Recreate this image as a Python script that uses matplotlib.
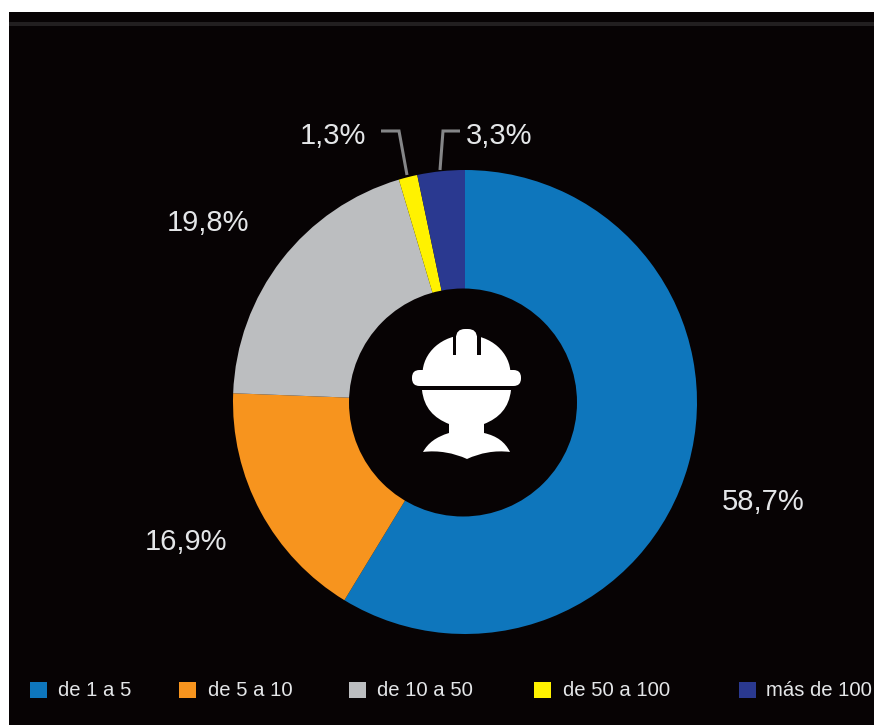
import matplotlib
matplotlib.use("Agg")
import matplotlib.pyplot as plt
from matplotlib.patches import Rectangle, PathPatch, Ellipse, FancyBboxPatch, Circle
from matplotlib.path import Path

plt.rcParams['font.family'] = ['Liberation Sans', 'DejaVu Sans']

categories = ["de 1 a 5", "de 5 a 10", "de 10 a 50", "de 50 a 100", "más de 100"]
values = [58.7, 16.9, 19.8, 1.3, 3.3]
colors = ["#0e76bc", "#f7941e", "#bcbec0", "#fff200", "#2a3990"]

W, H = 874, 725
BG = "#070304"
TXT = "#e4e6e8"
LINE = "#858688"


def fy(y):
    # picture y (from the top) to axes y
    return H - y


fig = plt.figure(figsize=(W / 100, H / 100), dpi=100, facecolor="white")
ax = fig.add_axes([0, 0, 1, 1])

# black panel and the faint rule on top
ax.add_patch(Rectangle((9, 0), W - 9, H - 12, fc=BG, ec="none", zorder=0))
ax.add_patch(Rectangle((9, fy(26)), W - 9, 4, fc="#221f20", ec="none", zorder=1))

# ======================
# Donut
# ======================
wedges, _ = ax.pie(values, colors=colors, startangle=90, counterclock=False,
                   center=(465, fy(402)), radius=232,
                   wedgeprops={"width": 125, "linewidth": 0}, frame=True)
ax.set_xlim(0, W)
ax.set_ylim(0, H)
ax.axis("off")
ax.set_aspect("auto")
# the hole sits a little left of the ring's centre
ax.add_patch(Circle((463, fy(402.5)), 114, fc=BG, ec="none", zorder=3))

# ======================
# Labels
# ======================
label_pos = [(763, 502), (186, 542), (208, 223), (333, 136), (499, 136)]
for v, (x, y) in zip(values, label_pos):
    ax.text(x, fy(y), f"{v:.1f}%".replace(".", ","), color=TXT, fontsize=21,
            ha="center", va="center", zorder=5)

# leader lines
ax.plot([381, 399, 407], [fy(131), fy(131), fy(175)], color=LINE, lw=2.2, zorder=4,
        solid_joinstyle="miter", solid_capstyle="butt")
ax.plot([460, 443, 440], [fy(131), fy(131), fy(170)], color=LINE, lw=2.2, zorder=4,
        solid_joinstyle="miter", solid_capstyle="butt")

# ======================
# Helmet icon
# ======================
ICON = "white"
# dome
ax.add_patch(Ellipse((466.5, fy(374)), 88, 78, fc=ICON, ec="none", zorder=6))
ax.add_patch(Rectangle((420, fy(396)), 95, 22, fc=BG, ec="none", zorder=6.5))
# centre ridge
ax.add_patch(FancyBboxPatch((456, fy(360)), 21, 31, boxstyle="round,pad=0,rounding_size=9",
                            fc=ICON, ec="none", zorder=7))
for sx in (452.5, 477):
    ax.add_patch(Rectangle((sx, fy(355)), 3.5, 22, fc=BG, ec="none", zorder=7.5))
# brim
ax.add_patch(FancyBboxPatch((412, fy(386)), 109, 16, boxstyle="round,pad=0,rounding_size=7.5",
                            fc=ICON, ec="none", zorder=8))
# head and shoulders
MOVE, CUR, LIN, END = Path.MOVETO, Path.CURVE4, Path.LINETO, Path.CLOSEPOLY
verts = [(422, 390), (511, 390),
         (509, 408), (499, 418), (484, 424),
         (484, 433),
         (497, 436), (505, 442), (510, 452),
         (495, 450), (480, 453), (467, 459),
         (454, 453), (438, 450), (423, 452),
         (428, 443), (436, 437), (449, 433),
         (449, 424),
         (434, 418), (424, 408), (422, 390),
         (422, 390)]
codes = [MOVE, LIN, CUR, CUR, CUR, LIN, CUR, CUR, CUR, CUR, CUR, CUR, CUR, CUR, CUR,
         CUR, CUR, CUR, LIN, CUR, CUR, CUR, END]
ax.add_patch(PathPatch(Path([(x, fy(y)) for x, y in verts], codes),
                       fc=ICON, ec="none", zorder=8))

# ======================
# Legend
# ======================
swatch_x = [30, 179, 349, 534, 739]
text_x = [58, 208, 377, 563, 766]
for name, c, sx, tx in zip(categories, colors, swatch_x, text_x):
    ax.add_patch(Rectangle((sx, fy(698)), 17, 16, fc=c, ec="none", zorder=5))
    ax.text(tx, fy(691), name, color=TXT, fontsize=14.6, ha="left", va="center", zorder=5)

fig.savefig("out.png", dpi=100, facecolor="white")
